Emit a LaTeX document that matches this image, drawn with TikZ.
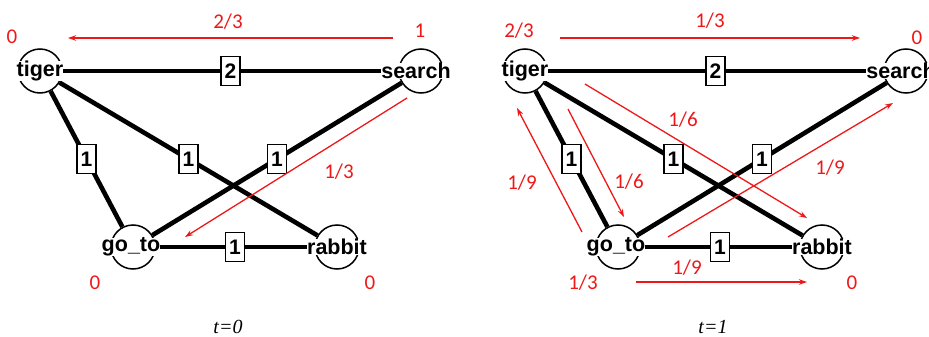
\documentclass[tikz,border=0pt]{standalone}
\usepackage{fontspec}
\usetikzlibrary{arrows.meta}
\newfontfamily\nodefont{Liberation Sans}
\newfontfamily\redfont{Carlito}
\newfontfamily\capfont{Liberation Serif}
\definecolor{annot}{RGB}{238,24,24}

% One copy of the word graph; #1 = name prefix
\newcommand\wordgraph[1]{%
  \node[vtx] (#1tiger)  at (40,71)   {};
  \node[vtx] (#1search) at (421,71)  {};
  \node[vtx] (#1goto)   at (133,247) {};
  \node[vtx] (#1rabbit) at (337,247) {};
  \draw[wedge] (#1tiger) -- node[wbox] (#1w2) {2} (#1search);
  \draw[wedge] (#1tiger) -- node[wbox] (#1wa) {1} (#1goto);
  \draw[wedge] (#1tiger) -- node[wbox] (#1wb) {1} (#1rabbit);
  \draw[wedge] (#1search) -- node[wbox] (#1wc) {1} (#1goto);
  \draw[wedge] (#1goto) -- node[wbox] (#1wd) {1} (#1rabbit);
  \node[vname] (#1tigertxt)  at (#1tiger)  {tiger};
  \node[vname] (#1searchtxt) at ([xshift=-5pt]#1search) {search};
  \node[vname] (#1gototxt)   at ([xshift=-2pt]#1goto)   {go\_to};
  \node[vname] (#1rabbittxt) at (#1rabbit) {rabbit};
}

\begin{document}
\begin{tikzpicture}[x=1pt,y=-1pt,
  vtx/.style={circle,draw=black,line width=1.5pt,minimum size=44pt,inner sep=0pt},
  vname/.style={fill=white,inner sep=0pt,font=\nodefont\bfseries\fontsize{21.5}{21.5}\selectfont},
  wedge/.style={line width=4.6pt,black},
  wbox/.style={draw=black,fill=white,line width=1.8pt,minimum width=19pt,minimum height=29pt,inner sep=0pt,font=\nodefont\bfseries\fontsize{21}{21}\selectfont},
  flow/.style={annot,line width=1.3pt,-{Stealth[length=8pt,width=5.5pt]}},
  num/.style={text=annot,font=\redfont\fontsize{21}{21}\selectfont,inner sep=0pt},
  steplabel/.style={font=\capfont\itshape\fontsize{20}{20}\selectfont,inner sep=0pt}]
\useasboundingbox (0,0) rectangle (929,337);

% ---- t = 0 ----
\wordgraph{a}
\coordinate (a1s) at (393,38);  \coordinate (a1e) at (68,38);
\coordinate (a2s) at (407,98);  \coordinate (a2e) at (185,237);
\draw[flow] (a1s) -- (a1e);
\draw[flow] (a2s) -- (a2e);
\node[num] (an1) at (228,22)  {2/3};
\node[num] (an2) at (12,37)   {0};
\node[num] (an3) at (420,31)  {1};
\node[num] (an4) at (339,172) {1/3};
\node[num] (an5) at (95,283)  {0};
\node[num] (an6) at (370,283) {0};
\node[steplabel] (acap) at (228,327) {t=0};

% ---- t = 1 ----
\begin{scope}[xshift=485pt]
\wordgraph{b}
\end{scope}
\coordinate (b1s) at (560,38);  \coordinate (b1e) at (860,38);
\coordinate (b2s) at (585,84);  \coordinate (b2e) at (807,218);
\coordinate (b3s) at (668,237); \coordinate (b3e) at (893,103);
\coordinate (b4s) at (582,232); \coordinate (b4e) at (517,108);
\coordinate (b5s) at (568,109); \coordinate (b5e) at (624,217);
\coordinate (b6s) at (636,282); \coordinate (b6e) at (807,282);
\draw[flow] (b1s) -- (b1e);
\draw[flow] (b2s) -- (b2e);
\draw[flow] (b3s) -- (b3e);
\draw[flow] (b4s) -- (b4e);
\draw[flow] (b5s) -- (b5e);
\draw[flow] (b6s) -- (b6e);
\node[num] (bn1) at (519,31)  {2/3};
\node[num] (bn2) at (710,21)  {1/3};
\node[num] (bn3) at (917,38)  {0};
\node[num] (bn4) at (683,120) {1/6};
\node[num] (bn5) at (830,168) {1/9};
\node[num] (bn6) at (522,183) {1/9};
\node[num] (bn7) at (629,182) {1/6};
\node[num] (bn8) at (687,268) {1/9};
\node[num] (bn9) at (583,283) {1/3};
\node[num] (bn10) at (852,283) {0};
\node[steplabel] (bcap) at (713,327) {t=1};
\end{tikzpicture}
\end{document}
